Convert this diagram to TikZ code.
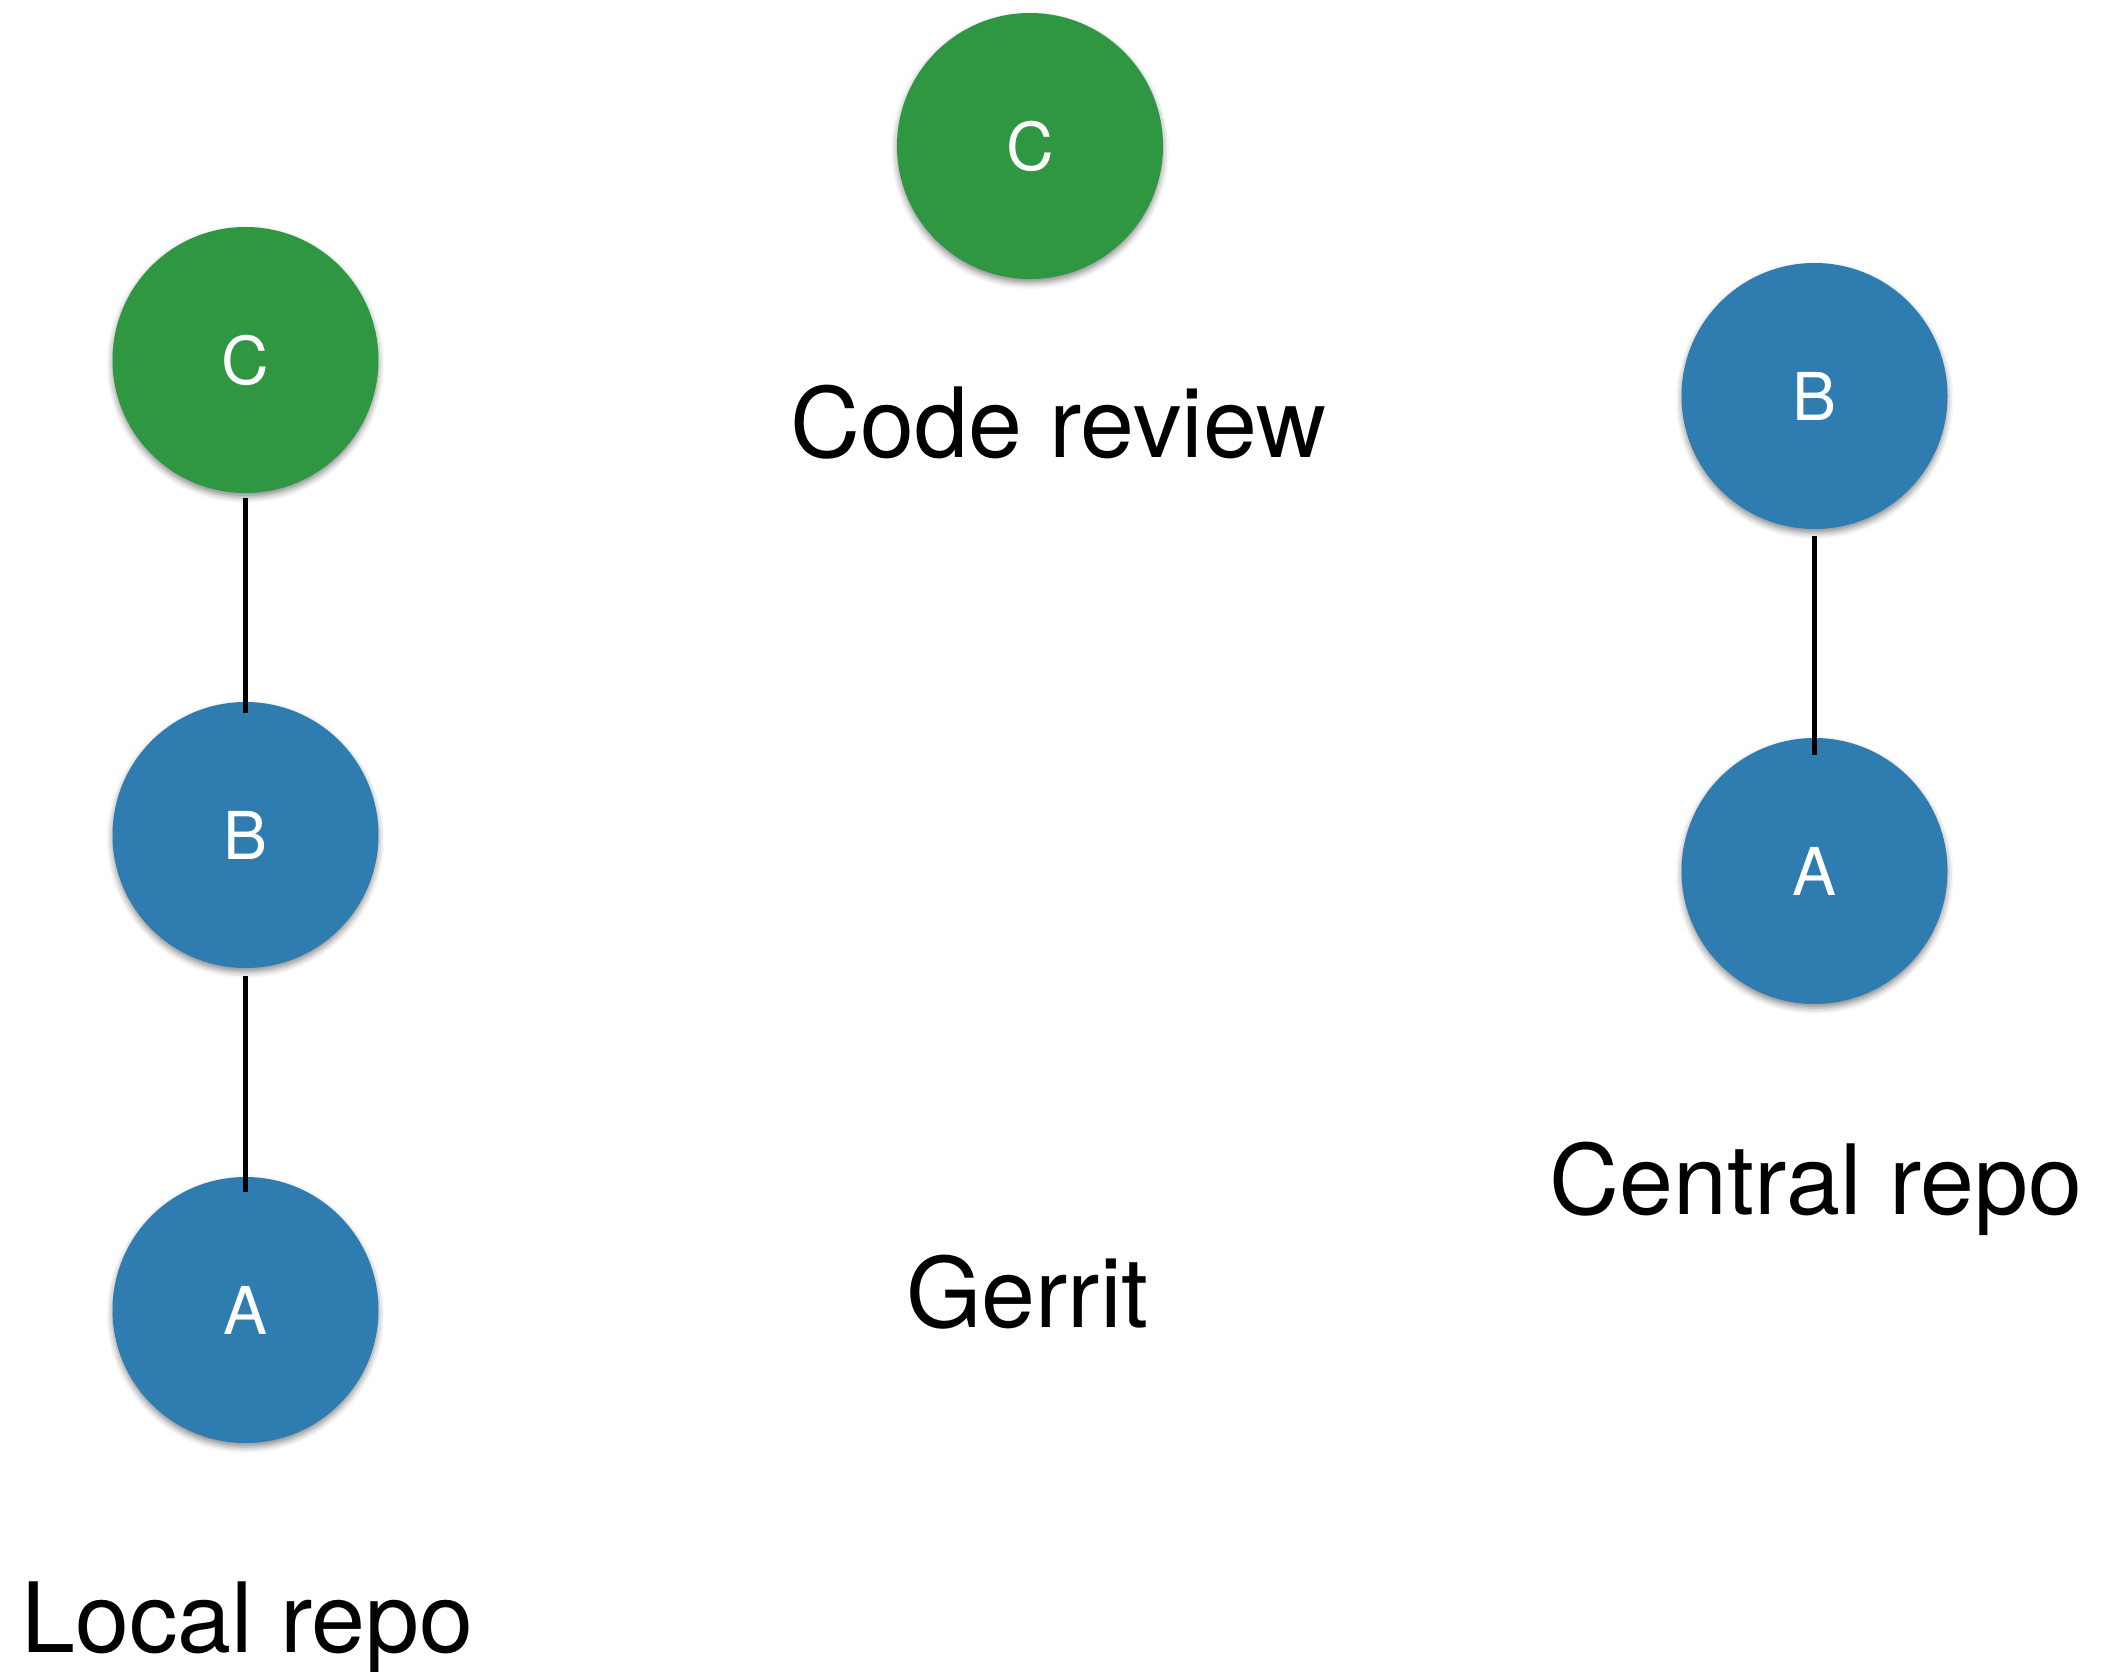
\documentclass[tikz,border=0pt]{standalone}
\usepackage{fontspec}
\setmainfont{TeX Gyre Heros}
\usetikzlibrary{calc,shadows.blur}
\definecolor{commitgreen}{RGB}{47,150,66}
\definecolor{commitblue}{RGB}{46,124,176}
\tikzset{
  commit/.style={circle, minimum size=266pt, inner sep=0pt, text=white,
    font=\fontsize{66}{70}\selectfont,
    blur shadow={shadow xshift=0pt, shadow yshift=-4pt, shadow blur radius=6pt, shadow opacity=45}},
  greencommit/.style={commit, fill=commitgreen},
  bluecommit/.style={commit, fill=commitblue},
  label/.style={anchor=base, inner sep=0pt, font=\fontsize{97}{110}\selectfont},
  link/.style={line width=5pt, black}
}
\begin{document}
\begin{tikzpicture}[x=1pt,y=-1pt]
\useasboundingbox (0,0) rectangle (2104,1672);
% local repo
\node[greencommit] (lc) at (245.5,360) {C};
\node[bluecommit] (lb) at (245.5,835) {B};
\node[bluecommit] (la) at (245.5,1310) {A};
% code review
\node[greencommit] (rc) at (1030,146) {C};
% central repo
\node[bluecommit] (cb) at (1814.5,396) {B};
\node[bluecommit] (ca) at (1814.5,871) {A};
% connectors
\draw[link] ($(lc.south)+(0,5)$) -- ($(lb.north)+(0,11)$);
\draw[link] ($(lb.south)+(0,8)$) -- ($(la.north)+(0,15)$);
\draw[link] ($(cb.south)+(0,7)$) -- ($(ca.north)+(0,17)$);
% labels
\node[label] (tcode) at (1058.5,457) {Code review};
\node[label] (tcentral) at (1816,1214) {Central repo};
\node[label] (tgerrit) at (1027.5,1327) {Gerrit};
\node[label] (tlocal) at (247.5,1652) {Local repo};
\end{tikzpicture}
\end{document}
